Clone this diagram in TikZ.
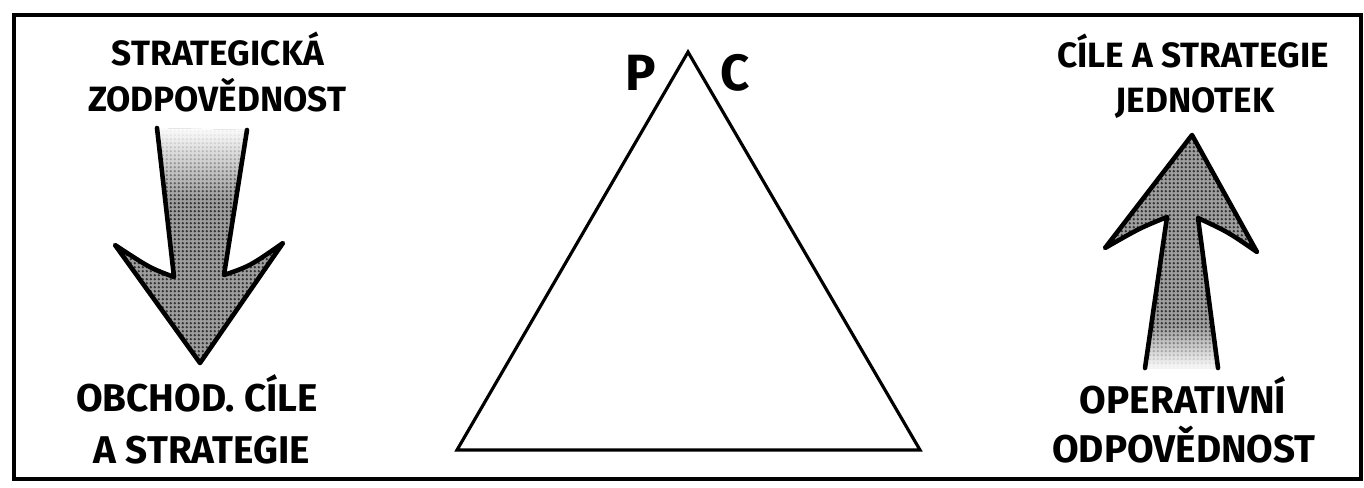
\documentclass[tikz,border=0pt]{standalone}
\usepackage{fontspec}
\setmainfont{Fira Sans}
\usetikzlibrary{patterns.meta,fadings}
\tikzfading[name=fadetop, top color=transparent!0, bottom color=transparent!100]
\tikzfading[name=fadebottom, top color=transparent!100, bottom color=transparent!0]
\tikzdeclarepattern{
  name=halftone,
  type=uncolored,
  bounding box={(0pt,0pt) and (2.4pt,2.4pt)},
  tile size={(2.4pt,2.4pt)},
  code={\fill (1.2pt,1.2pt) circle (0.88pt);}
}
\tikzset{
  lbl/.style={anchor=base, inner sep=0pt, font=\bfseries\fontsize{20}{20}\selectfont},
  lblbig/.style={anchor=base, inner sep=0pt, font=\bfseries\fontsize{22}{22}\selectfont},
  corner/.style={anchor=base, inner sep=0pt, font=\bfseries\fontsize{29}{29}\selectfont},
  frame/.style={line width=2.6pt, line join=miter},
  tri/.style={line width=1.8pt, line join=miter},
  arrowbase/.style={fill=black!38},
  arrowfill/.style={pattern=halftone, pattern color=black!80},
  arrowline/.style={line width=2.6pt, line join=round, line cap=round},
}
\begin{document}
\begin{tikzpicture}[x=0.02cm, y=-0.02cm]
\useasboundingbox (0,0) rectangle (1364,487);
% frame
\draw[frame] (14,15) rectangle (1361,479);

% triangle
\coordinate (apex) at (688,52);
\coordinate (bl) at (457,450);
\coordinate (br) at (920,450);
\draw[tri] (apex) -- (br) -- (bl) -- cycle;
\node[corner] (P) at (641,90) {P};
\node[corner] (C) at (735,90) {C};

% left arrow (down)
\coordinate (L1) at (157,128);
\coordinate (L2) at (174,277);
\coordinate (L3) at (115,245);
\coordinate (L4) at (200,363);
\coordinate (L5) at (283,243);
\coordinate (L6) at (224,275);
\coordinate (L7) at (247,130);
\fill[arrowbase] (L1) -- (L2) .. controls (150,268) .. (L3) -- (L4) -- (L5) .. controls (250,266) .. (L6) -- (L7) -- cycle;
\fill[arrowfill] (L1) -- (L2) .. controls (150,268) .. (L3) -- (L4) -- (L5) .. controls (250,266) .. (L6) -- (L7) -- cycle;
\begin{scope}
  \clip (L1) -- (L2) -- (L3) -- (L4) -- (L5) -- (L6) -- (L7) -- cycle;
  \fill[white, path fading=fadetop] (150,126) rectangle (255,200);
\end{scope}
\draw[arrowline] (L1) -- (L2) .. controls (150,268) .. (L3) -- (L4) -- (L5) .. controls (250,266) .. (L6) -- (L7);

% right arrow (up)
\coordinate (R1) at (1145,368);
\coordinate (R2) at (1167,217);
\coordinate (R3) at (1105,248);
\coordinate (R4) at (1192,135);
\coordinate (R5) at (1257,252);
\coordinate (R6) at (1198,218);
\coordinate (R7) at (1218,368);
\fill[arrowbase] (R1) -- (R2) .. controls (1140,228) .. (R3) -- (R4) -- (R5) .. controls (1228,232) .. (R6) -- (R7) -- cycle;
\fill[arrowfill] (R1) -- (R2) .. controls (1140,228) .. (R3) -- (R4) -- (R5) .. controls (1228,232) .. (R6) -- (R7) -- cycle;
\begin{scope}
  \clip (R1) -- (R2) -- (R3) -- (R4) -- (R5) -- (R6) -- (R7) -- cycle;
  \fill[white, path fading=fadebottom] (1140,325) rectangle (1225,370);
\end{scope}
\draw[arrowline] (R1) -- (R2) .. controls (1140,228) .. (R3) -- (R4) -- (R5) .. controls (1228,232) .. (R6) -- (R7);

% labels
\node[lbl] (sz1) at (218,65) {STRATEGICKÁ};
\node[lbl] (sz2) at (217,111) {ZODPOVĚDNOST};
\node[lbl] (cs1) at (1193,67) {CÍLE A STRATEGIE};
\node[lbl] (cs2) at (1195,112) {JEDNOTEK};
\node[lblbig] (oc1) at (197,411) {OBCHOD. CÍLE};
\node[lblbig] (oc2) at (202,463) {A STRATEGIE};
\node[lblbig] (op1) at (1183,413) {OPERATIVNÍ};
\node[lblbig] (op2) at (1184,462) {ODPOVĚDNOST};
\end{tikzpicture}
\end{document}
